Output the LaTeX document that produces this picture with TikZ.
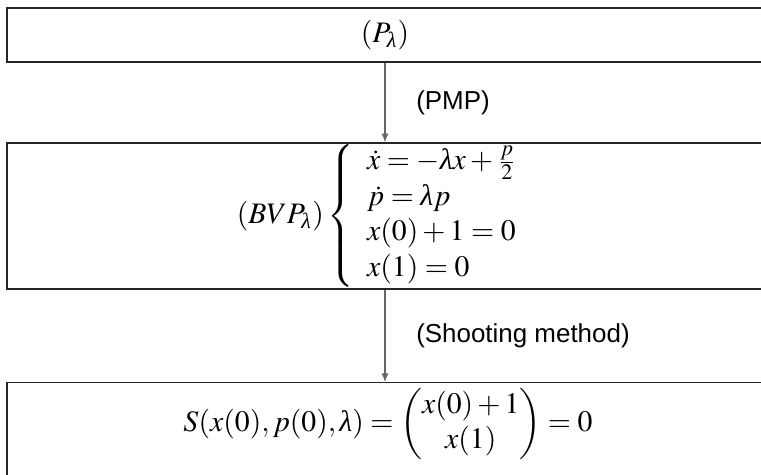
\documentclass[tikz,border=0pt]{standalone}
\usepackage{amsmath}
\usepackage{mathptmx}
\usepackage[no-math]{fontspec}
\newfontfamily\labelfont{Liberation Sans}
\newfontfamily\greekfont{Liberation Serif}
\newcommand{\lam}{\text{\greekfont\itshape λ}}
\usetikzlibrary{arrows.meta, positioning}

\begin{document}
\begin{tikzpicture}[x=0.37pt, y=-0.37pt,
    stage/.style={draw=black!85, line width=0.55pt, minimum width=279.7pt, inner sep=0pt},
    mathtext/.style={font=\fontsize{11}{13.2}\selectfont},
    flow/.style={-{Latex[length=3.2pt,width=2.6pt]}, draw=black!60, line width=0.45pt},
    steplabel/.style={midway, right=8pt, font=\labelfont\fontsize{9.6}{11}\selectfont}]
  \path[use as bounding box, clip] (0,0) rectangle (761,474);

  \node[stage, mathtext, minimum height=20pt] (problem) at (385,35) {$(P_\lam)$};
  \node[stage, mathtext, minimum height=54pt] (bvp) at (385,216)
    {$(BVP_\lam)\left\{\begin{array}{l}
        \dot{x} = -\lam x + \frac{p}{2}\\
        \dot{p} = \lam p\\
        x(0) + 1 = 0\\
        x(1) = 0
      \end{array}\right.$};
  \node[stage, anchor=north, minimum height=45pt] (shoot) at (385,382) {};
  \node[mathtext] (shooteq) at (388,424)
    {$\displaystyle S(x(0),p(0),\lam) = \begin{pmatrix} x(0)+1\\ x(1)\end{pmatrix} = 0$};

  \draw[flow] (problem) -- (bvp) node[steplabel] {(PMP)};
  \draw[flow] (bvp) -- (shoot) node[steplabel] {(Shooting method)};
\end{tikzpicture}
\end{document}
